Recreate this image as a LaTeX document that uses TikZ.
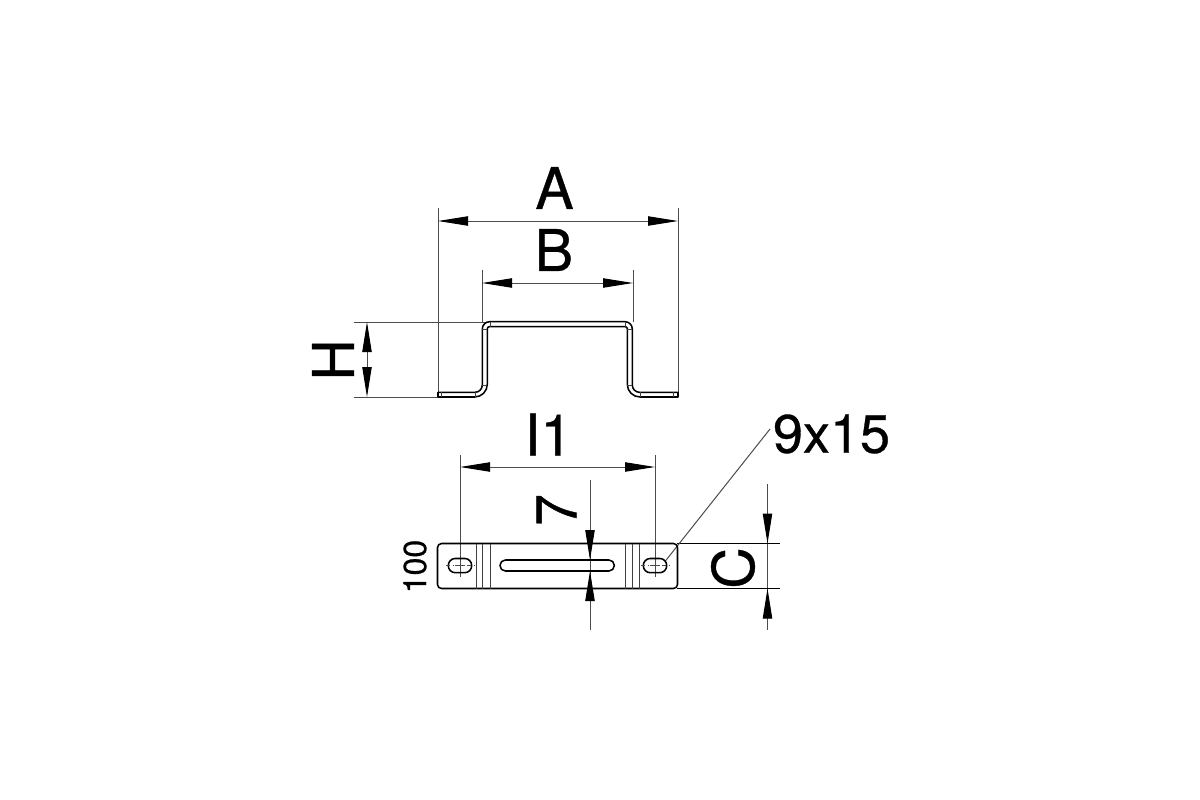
\documentclass[tikz,border=0pt]{standalone}
\usepackage{fontspec}
\setmainfont{TeX Gyre Heros}[FakeBold=0.6]
\usetikzlibrary{arrows.meta}
\tikzset{
 part/.style={line width=1.15pt,black,line join=round},
 thin part/.style={line width=0.7pt,black!75},
 dimline/.style={line width=0.75pt,black!70},
 dimarrows/.style={dimline,{Triangle[length=22.5pt,width=7pt,color=black]}-{Triangle[length=22.5pt,width=7pt,color=black]}},
 oneend/.style={dimline,-{Triangle[length=22.5pt,width=7pt,color=black]}},
 biglabel/.style={inner sep=0pt,font=\fontsize{43}{43}\selectfont},
 widelabel/.style={inner sep=0pt,font=\fontsize{40.5}{41}\selectfont},
 smalllabel/.style={inner sep=0pt,font=\fontsize{24}{24}\selectfont},
}
\begin{document}
\begin{tikzpicture}[x=0.75pt,y=-0.75pt]
\useasboundingbox (0,0) rectangle (1200,800);
\fill[white] (0,0) rectangle (1200,800);
% named dimension end points
\coordinate (aL) at (438,221); \coordinate (aR) at (678,221);
\coordinate (bL) at (482,283); \coordinate (bR) at (633,283);
\coordinate (hT) at (367,322); \coordinate (hB) at (367,397);
\coordinate (iL) at (460,467); \coordinate (iR) at (655,467);
\coordinate (sT) at (590,560); \coordinate (sB) at (590,571);
\coordinate (cT) at (767.5,543.5); \coordinate (cB) at (767.5,588.5);
\coordinate (lead0) at (665,561.5); \coordinate (lead1) at (770,429);
% extension lines
\draw[dimline] (438,208)--(438,397) (678,208)--(678,397);
\draw[dimline] (482,270)--(482,322) (633,270)--(633,322);
\draw[dimline] (354,322)--(486,322) (354,397)--(438,397);
\draw[dimline] (460,455)--(460,577) (655,455)--(655,577);
\draw[dimline] (590,480)--(590,630);
\draw[dimline] (767.5,484)--(767.5,630);
\draw[part,line width=0.9pt] (677,543.5)--(780,543.5) (677,588.5)--(780,588.5);
% dimension arrows
\draw[dimarrows] (aL)--(aR);
\draw[dimarrows] (bL)--(bR);
\draw[dimarrows] (hT)--(hB);
\draw[dimarrows] (iL)--(iR);
\draw[oneend] (590,530)--(sT);
\draw[oneend] (590,601)--(sB);
\draw[oneend] (767.5,511)--(cT);
\draw[oneend] (767.5,620)--(cB);
\draw[dimline] (lead0)--(lead1);
% profile
\draw[part] (438,397)--(438,392.3)--(475,392.3) arc[start angle=90,end angle=0,radius=7.3]
  --(482.3,329) arc[start angle=180,end angle=270,radius=7.3]--(625,321.7)
  arc[start angle=270,end angle=360,radius=7.3]--(632.3,385) arc[start angle=180,end angle=90,radius=7.3]
  --(678,392.3)--(678,397)--(640,397) arc[start angle=90,end angle=180,radius=12.7]
  --(627.3,328.7) arc[start angle=0,end angle=-90,radius=2]--(489.3,326.7) arc[start angle=-90,end angle=-180,radius=2]
  --(487.3,384.3) arc[start angle=0,end angle=90,radius=12.7]--cycle;
\draw[thin part] (441.7,392.3)--(441.7,397) (673.5,392.3)--(673.5,397)
  (475.5,392.3)--(475.5,397) (640,392.3)--(640,397)
  (482.3,385)--(487.3,385) (627.3,385)--(632.3,385)
  (482.3,329)--(487.3,329) (627.3,329)--(632.3,329)
  (490,321.7)--(490,326.7) (625,321.7)--(625,326.7);
% plate
\draw[part,rounded corners=3pt] (437.5,543.5) rectangle (677.5,588.5);
\draw[thin part] (476,543.5)--(476,588.5) (482.7,543.5)--(482.7,588.5) (490.3,543.5)--(490.3,588.5)
 (625,543.5)--(625,588.5) (632.3,543.5)--(632.3,588.5) (639.3,543.5)--(639.3,588.5);
\draw[part,rounded corners=4pt] (500,560) rectangle (614.3,571);
\draw[part,rounded corners=5.2pt] (448.3,558.5) rectangle (471.7,572.7);
\draw[part,rounded corners=5.2pt] (643.3,558.5) rectangle (666.7,572.7);
\draw[dimline] (455,565.6)--(465,565.6) (650,565.6)--(660,565.6);
\draw[dimline,dash pattern=on 3pt off 2pt] (446,565.6)--(453,565.6) (467,565.6)--(474,565.6) (641,565.6)--(648,565.6) (662,565.6)--(669,565.6);
% labels
\node[biglabel] (tA) at (554.5,188) {A};
\node[biglabel] (tB) at (554,250) {B};
\node[biglabel,rotate=90] (tH) at (333,360) {H};
\node[biglabel] (tI) at (548.5,434.5) {I1};
\node[biglabel,rotate=90] (t7) at (556.5,510) {7};
\node[biglabel,rotate=90] (tC) at (733,568) {C};
\node[smalllabel,rotate=90] (t100) at (415,566.5) {100};
\node[widelabel] (t9) at (831.5,434) {9x15};
\end{tikzpicture}
\end{document}
